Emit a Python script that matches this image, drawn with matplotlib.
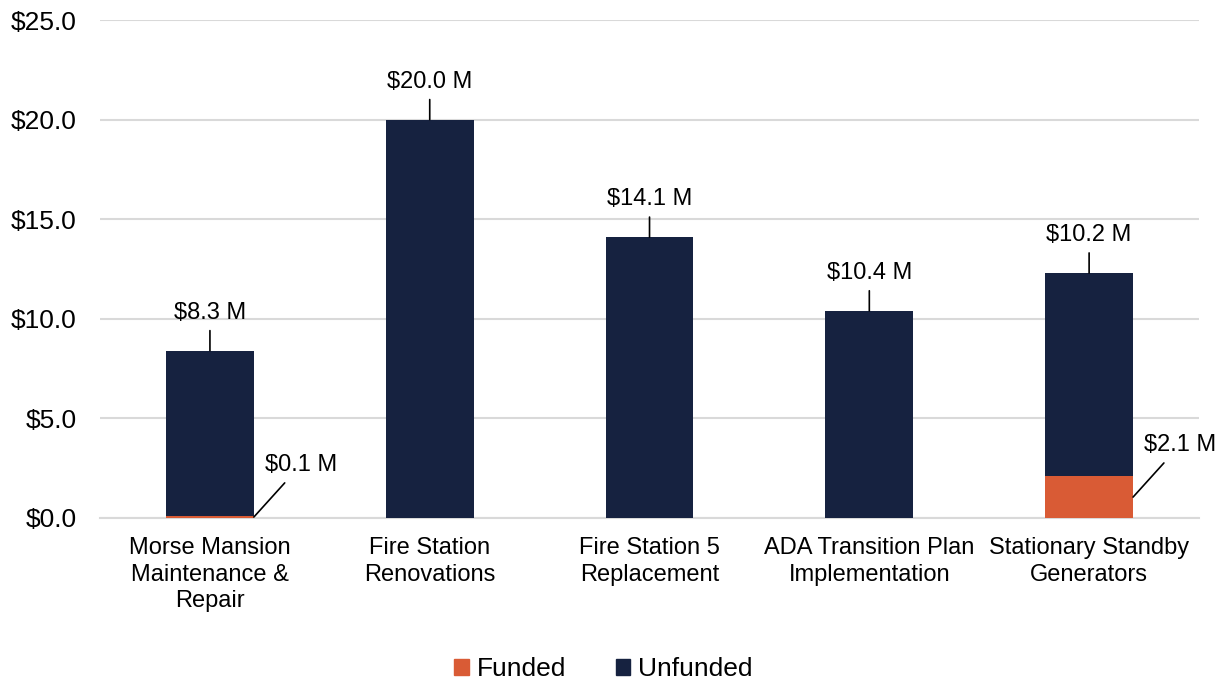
import numpy as np
import matplotlib.pyplot as plt
from matplotlib.patches import Patch

plt.rcParams['font.family'] = ['Liberation Sans', 'DejaVu Sans']

# project costs in $ millions
projects = ['Morse Mansion\nMaintenance &\nRepair', 'Fire Station\nRenovations',
            'Fire Station 5\nReplacement', 'ADA Transition Plan\nImplementation',
            'Stationary Standby\nGenerators']
funded = [0.1, 0.0, 0.0, 0.0, 2.1]
unfunded = [8.3, 20.0, 14.1, 10.4, 10.2]

navy = '#162240'
orange = '#D95B35'

fig = plt.figure(figsize=(12.29, 6.83), dpi=100)
ax = fig.add_axes([0.0814, 0.2416, 0.8942, 0.7291])

x = np.arange(len(projects))
w = 0.4
ax.bar(x, funded, w, color=orange, zorder=3)
ax.bar(x, unfunded, w, bottom=funded, color=navy, zorder=3)

# value labels with leader lines
for i in range(len(projects)):
    top = funded[i] + unfunded[i]
    ax.annotate('$%.1f M' % unfunded[i], xy=(i, top), xytext=(0, 38),
                textcoords='offset pixels', ha='center', va='center', fontsize=17,
                arrowprops=dict(arrowstyle='-', color='black', lw=1.2, shrinkA=3, shrinkB=0))
    if funded[i] > 0:
        ax.annotate('$%.1f M' % funded[i], xy=(i + w / 2, funded[i] / 2), xytext=(47, 52),
                    textcoords='offset pixels', ha='center', va='center', fontsize=17,
                    arrowprops=dict(arrowstyle='-', color='black', lw=1.2, shrinkA=4, shrinkB=0))

ax.set_xlim(-0.5, len(projects) - 0.5)
ax.set_ylim(0, 25)
ax.set_yticks(np.arange(0, 25.1, 5))
ax.set_yticklabels(['$%.1f' % v for v in np.arange(0, 25.1, 5)], fontsize=19)
ax.set_xticks(x)
ax.set_xticklabels(projects, linespacing=1.25, fontsize=17)
ax.tick_params(axis='both', length=0)
ax.tick_params(axis='y', pad=17)
ax.tick_params(axis='x', pad=14)
ax.grid(axis='y', color='#D9D9D9', lw=1.5, zorder=0)
for s in ['top', 'right', 'left']:
    ax.spines[s].set_visible(False)
ax.spines['bottom'].set_color('#D9D9D9')
ax.spines['bottom'].set_linewidth(1.5)

handles = [Patch(color=orange, label='Funded'), Patch(color=navy, label='Unfunded')]
fig.legend(handles=handles, loc='center', bbox_to_anchor=(0.491, 14 / 683), ncol=2,
           frameon=False, fontsize=19, handlelength=0.55, handleheight=0.55,
           handletextpad=0.3, columnspacing=1.9)

fig.savefig('out.png', dpi=100)
